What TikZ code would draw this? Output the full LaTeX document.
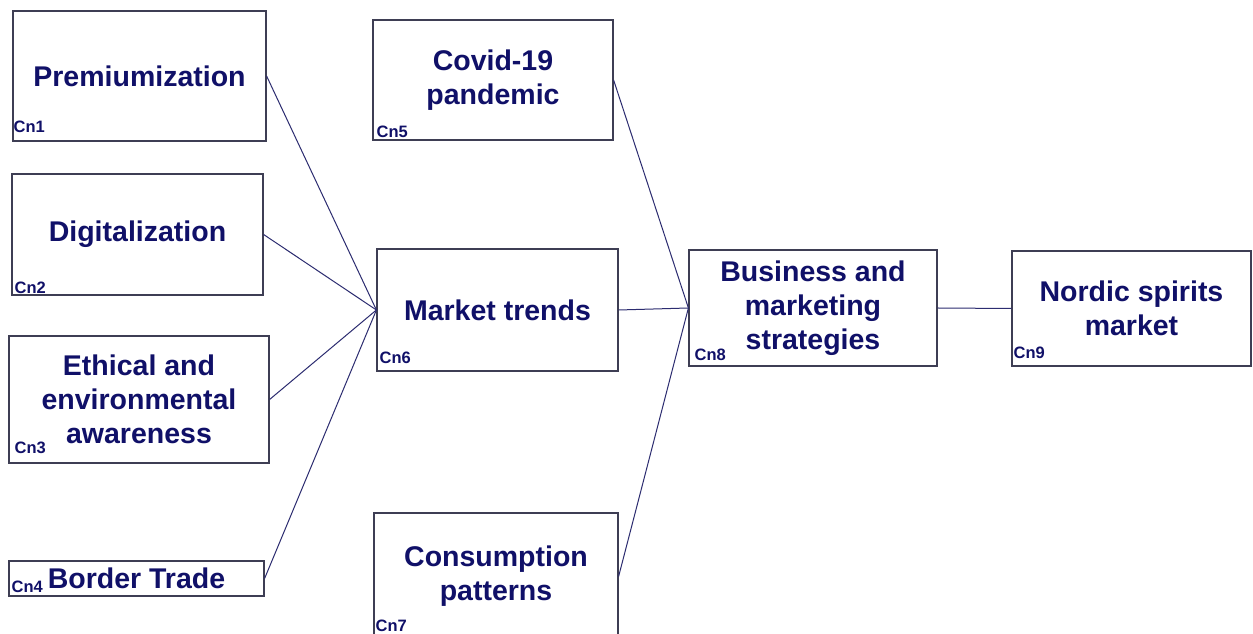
\documentclass[tikz,border=0pt]{standalone}
\usepackage{fontspec}
\setmainfont{Liberation Sans}
\usepackage{xcolor}
\usepackage{tikz}
\usetikzlibrary{positioning}

\definecolor{navytext}{RGB}{16,16,104}
\definecolor{boxline}{RGB}{62,62,84}
\definecolor{linkline}{RGB}{44,44,112}

\begin{document}
\begin{tikzpicture}[x=1pt, y=1pt,
    factor/.style={rectangle, draw=boxline, line width=1.2pt, inner sep=0pt, align=center, text=navytext,
      font=\fontsize{28.5}{34}\selectfont\bfseries},
    tag/.style={inner sep=0pt, text=navytext, font=\fontsize{16.5}{18}\selectfont\bfseries},
    link/.style={draw=linkline, line width=1pt}]
        \path[use as bounding box, fill=white] (0,0) rectangle (1253,634);

        % Factor boxes
        \node[factor, minimum width=253, minimum height=130] (prem) at (139.5,558) {Premiumization};
        \node[factor, minimum width=251, minimum height=121] (digi) at (137.5,399.5) {Digitalization};
        \node[factor, minimum width=260, minimum height=127] (ethic) at (139,234.5) {Ethical and\\environmental\\awareness};
        \node[factor, minimum width=255, minimum height=35] (border) at (136.5,55.5) {Border Trade};
        \node[factor, minimum width=240, minimum height=120] (covid) at (493,554) {Covid-19\\pandemic};
        \node[factor, minimum width=241, minimum height=122] (trends) at (497.5,324) {Market trends};
        \node[factor, minimum width=244, minimum height=127] (consum) at (496,57.5) {Consumption\\patterns};
        \node[factor, minimum width=248, minimum height=116] (strat) at (813,326) {Business and\\marketing\\strategies};
        \node[factor, minimum width=239, minimum height=115] (nordic) at (1131.5,325.5) {Nordic spirits\\market};

        % Cn tags
        \node[tag, above right=9pt and 1pt of prem.south west] (cn1) {Cn1};
        \node[tag, above right=2pt and 3pt of digi.south west] (cn2) {Cn2};
        \node[tag, above right=10pt and 6pt of ethic.south west] (cn3) {Cn3};
        \node[tag, above right=4pt and 3pt of border.south west] (cn4) {Cn4};
        \node[tag, above right=3pt and 4pt of covid.south west] (cn5) {Cn5};
        \node[tag, above right=8pt and 3pt of trends.south west] (cn6) {Cn6};
        \node[tag, above right=9pt and 2pt of consum.south west] (cn7) {Cn7};
        \node[tag, above right=6pt and 6pt of strat.south west] (cn8) {Cn8};
        \node[tag, above right=8pt and 2pt of nordic.south west] (cn9) {Cn9};

        % Connections
        \draw[link] (prem.east) -- (trends.west);
        \draw[link] (digi.east) -- (trends.west);
        \draw[link] (ethic.east) -- (trends.west);
        \draw[link] (border.east) -- (trends.west);
        \draw[link] (covid.east) -- (strat.west);
        \draw[link] (trends.east) -- (strat.west);
        \draw[link] (consum.east) -- (strat.west);
        \draw[link] (strat.east) -- (nordic.west);
\end{tikzpicture}
\end{document}
